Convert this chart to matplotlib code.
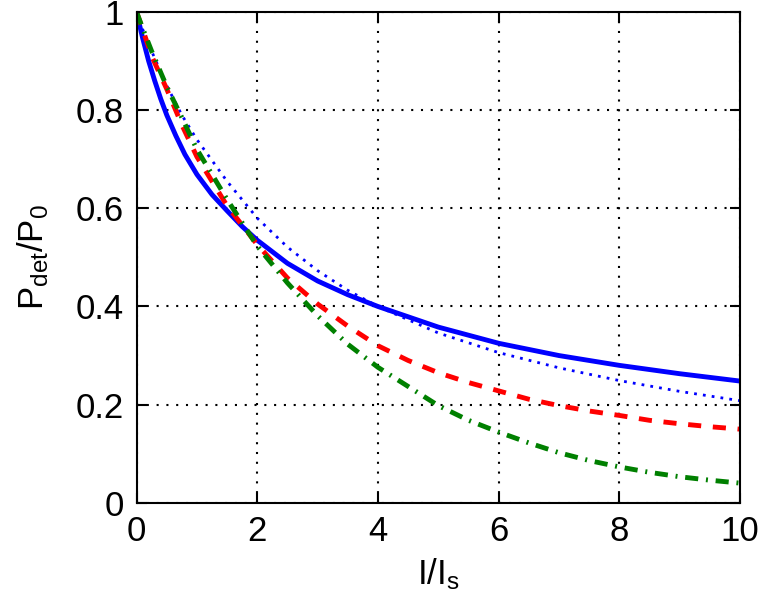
import numpy as np
from matplotlib import pyplot as plt

# values
x_solid = [0, 0.05, 0.1, 0.2, 0.3, 0.4, 0.5, 0.65, 0.8, 1, 1.25, 1.5, 1.75, 2, 2.5, 3,
           3.5, 4, 5, 6, 7, 8, 9, 10]
p_solid = [1, 0.973, 0.947, 0.90, 0.86, 0.823, 0.79, 0.748, 0.71, 0.669, 0.628, 0.595,
           0.563, 0.535, 0.488, 0.452, 0.424, 0.400, 0.358, 0.325, 0.300, 0.280, 0.263, 0.248]

x_dot = [0, 0.1, 0.25, 0.5, 0.75, 1, 1.5, 2, 2.5, 3, 3.5, 4, 5, 6, 7, 8, 9, 10]
p_dot = [1, 0.965, 0.92, 0.85, 0.79, 0.74, 0.655, 0.58, 0.521, 0.473, 0.433, 0.400,
         0.346, 0.306, 0.275, 0.249, 0.227, 0.208]

x_dash = [0, 0.1, 0.25, 0.5, 0.75, 1, 1.5, 2, 2.5, 3, 3.5, 4, 4.5, 5, 5.5, 6, 6.5,
          7, 7.5, 8, 8.5, 9, 9.5, 10]
p_dash = [1, 0.965, 0.91, 0.843, 0.77, 0.705, 0.605, 0.526, 0.458, 0.405, 0.36, 0.32,
          0.29, 0.265, 0.245, 0.228, 0.211, 0.198, 0.187, 0.178, 0.168, 0.161, 0.155, 0.150]

x_dashdot = [0, 0.1, 0.25, 0.5, 0.75, 1, 1.5, 2, 2.5, 3, 3.5, 4, 4.5, 5, 5.5, 6, 6.5,
             7, 7.5, 8, 8.5, 9, 9.5, 10]
p_dashdot = [1, 0.967, 0.92, 0.848, 0.785, 0.72, 0.618, 0.523, 0.448, 0.381, 0.323, 0.276,
             0.237, 0.198, 0.168, 0.144, 0.122, 0.102, 0.086, 0.073, 0.062, 0.053, 0.046, 0.040]

x_ticks = [0, 2, 4, 6, 8, 10]
y_ticks = [0, 0.2, 0.4, 0.6, 0.8, 1]
y_ticklabels = ['0', '0.2', '0.4', '0.6', '0.8', '1']

plt.rcParams['font.family'] = ['Liberation Sans', 'DejaVu Sans']
plt.rcParams['mathtext.fontset'] = 'custom'
plt.rcParams['mathtext.rm'] = 'Liberation Sans'
plt.rcParams['mathtext.it'] = 'Liberation Sans:italic'

fig = plt.figure(figsize=(7.59, 6.05), dpi=100)
ax = fig.add_axes([0.180, 0.169, 0.795, 0.811])

ax.plot(x_dot, p_dot, color='blue', lw=2, linestyle=(0, (1, 2.2)))
ax.plot(x_solid, p_solid, color='blue', lw=3.5, solid_capstyle='butt')
ax.plot(x_dash, p_dash, color='red', lw=3.5, linestyle=(0, (2.7, 2.4)))
ax.plot(x_dashdot, p_dashdot, color='#008000', lw=3.5, linestyle=(0, (2.7, 1.6, 0.4, 1.6)))

ax.set_xlim(0, 10)
ax.set_ylim(0, 1)
ax.set_xticks(x_ticks)
ax.set_yticks(y_ticks)
ax.set_yticklabels(y_ticklabels)
ax.grid(True, color='black', linestyle=(0, (1, 3.7)), lw=1.5)
ax.tick_params(direction='in', length=7, width=1.5, top=True, right=True,
               labelsize=25, pad=9)
for s in ax.spines.values():
    s.set_linewidth(1.5)

ax.set_xlabel('I/I$_\\mathrm{s}$', fontsize=25, labelpad=6)
ax.set_ylabel('P$_\\mathrm{det}$/P$_\\mathrm{0}$', fontsize=25, labelpad=18)

plt.savefig('out.png', dpi=100)
plt.close()
